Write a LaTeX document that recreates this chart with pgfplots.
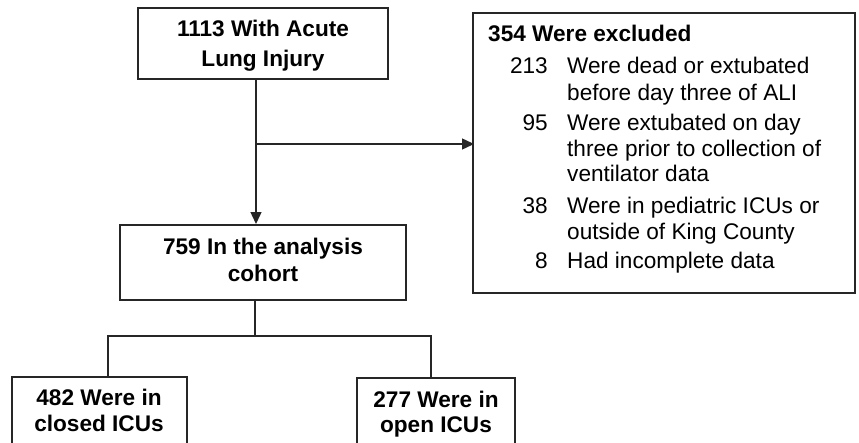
\documentclass[border=0pt]{standalone}
\usepackage{pgfplots}
\pgfplotsset{compat=1.18}
\usepackage{fontspec}
\setmainfont{Liberation Sans}
\usetikzlibrary{arrows.meta}
\begin{document}
\begin{tikzpicture}
\begin{axis}[
  scale only axis, width=859bp, height=443bp,
  xmin=0, xmax=859, ymin=0, ymax=443, y dir=reverse,
  axis line style={draw=none}, ticks=none, clip=true,
  ln/.style={draw=black!85, solid, mark=none, line width=1.4bp},
]
\addplot[draw=none, mark=none] coordinates {(0,0) (859,443)};
% boxes
\addplot[ln] coordinates {(138,8) (388,8) (388,79) (138,79)} --cycle;
\addplot[ln] coordinates {(473,13) (855,13) (855,293) (473,293)} --cycle;
\addplot[ln] coordinates {(120,225) (406,225) (406,300) (120,300)} --cycle;
\addplot[ln] coordinates {(12,450) (12,377) (187,377) (187,450)};
\addplot[ln] coordinates {(357,450) (357,378) (515,378) (515,450)};
% connectors
\addplot[ln, arrows={-Triangle[length=12bp,width=11bp]}] coordinates {(256,79) (256,224)};
\addplot[ln, arrows={-Triangle[length=12bp,width=11bp]}] coordinates {(256,144) (474,144)};
\addplot[ln] coordinates {(255,300) (255,336)};
\addplot[ln] coordinates {(108,377) (108,336) (431,336) (431,378)};
% text
\begin{scope}[every node/.style={inner sep=0pt, font=\fontsize{22.7}{27}\selectfont}]
\node[anchor=base] at (axis cs:263,37) {\bfseries 1113 With Acute};
\node[anchor=base] at (axis cs:263,67) {\bfseries Lung Injury};
\node[anchor=base] at (axis cs:263,254) {\bfseries 759 In the analysis};
\node[anchor=base] at (axis cs:263,281) {\bfseries cohort};
\node[anchor=base] at (axis cs:99,405) {\bfseries 482 Were in};
\node[anchor=base] at (axis cs:99,431) {\bfseries closed ICUs};
\node[anchor=base] at (axis cs:436,407) {\bfseries 277 Were in};
\node[anchor=base] at (axis cs:436,432) {\bfseries open ICUs};
\node[anchor=base west] at (axis cs:488,41.7) {\bfseries 354 Were excluded};
\node[anchor=base east] at (axis cs:548,74) {213};
\node[anchor=base west] at (axis cs:567,74) {Were dead or extubated};
\node[anchor=base west] at (axis cs:567,100) {before day three of ALI};
\node[anchor=base east] at (axis cs:548,130) {95};
\node[anchor=base west] at (axis cs:567,130) {Were extubated on day};
\node[anchor=base west] at (axis cs:567,156) {three prior to collection of};
\node[anchor=base west] at (axis cs:567,181.7) {ventilator data};
\node[anchor=base east] at (axis cs:548,213) {38};
\node[anchor=base west] at (axis cs:567,213) {Were in pediatric ICUs or};
\node[anchor=base west] at (axis cs:567,239) {outside of King County};
\node[anchor=base east] at (axis cs:548,268) {8};
\node[anchor=base west] at (axis cs:567,268) {Had incomplete data};
\end{scope}
\end{axis}
\end{tikzpicture}
\end{document}
